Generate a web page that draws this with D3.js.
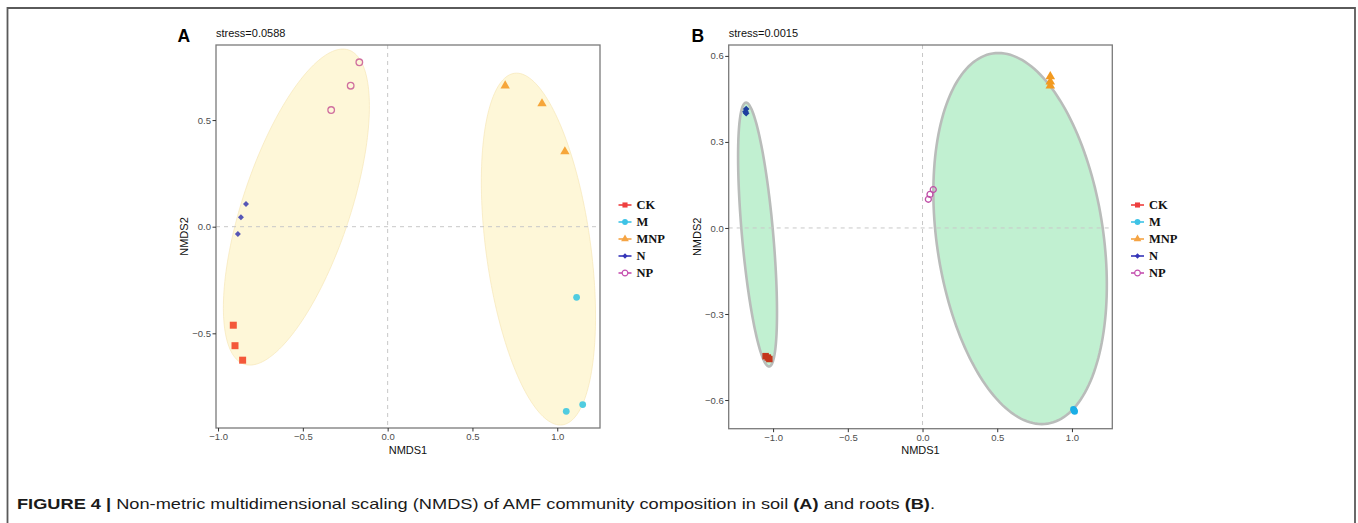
<!DOCTYPE html>
<html><head><meta charset="utf-8">
<script src="https://cdn.jsdelivr.net/npm/d3@7"></script>
<style>body{margin:0;background:#fff;} svg{display:block;}</style>
</head><body><svg id="chart" width="1358" height="523"></svg>
<script>
// ---------------- DATA ----------------
const groups = ["CK", "M", "MNP", "N", "NP"];

// Panel A (soil) NMDS scores [NMDS1, NMDS2]
const soilCK  = [[-0.910, -0.462], [-0.900, -0.558], [-0.855, -0.626]];
const soilM   = [[1.114, -0.331], [1.150, -0.834], [1.053, -0.866]];
const soilMNP = [[0.693, 0.661], [0.910, 0.577], [1.045, 0.352]];
const soilN   = [[-0.835, 0.106], [-0.865, 0.044], [-0.883, -0.034]];
const soilNP  = [[-0.167, 0.771], [-0.218, 0.661], [-0.333, 0.547]];
const soilStress = "stress=0.0588";

// Panel B (roots)
const rootCK  = [[-1.050, -0.447], [-1.035, -0.452], [-1.025, -0.457]];
const rootM   = [[1.010, -0.632], [1.015, -0.637], [1.018, -0.640]];
const rootMNP = [[0.855, 0.528], [0.855, 0.510], [0.855, 0.496]];
const rootN   = [[-1.180, 0.415], [-1.185, 0.405], [-1.180, 0.400]];
const rootNP  = [[0.039, 0.100], [0.050, 0.117], [0.072, 0.134]];
const rootStress = "stress=0.0015";

// group ellipses: centre + two conjugate semi-diameters (data units)
const soilEllipses = [
  {cx: -0.538, cy: 0.092, px: 0.274, py: 0.741, qx: 0.332, qy: 0},
  {cx: 0.889, cy: -0.105, px: -0.129, py: 0.825, qx: 0.311, qy: 0}
];
const rootEllipses = [
  {cx: -1.104, cy: -0.023, px: -0.077, py: 0.460, qx: 0.105, qy: 0},
  {cx: 0.653, cy: -0.037, px: -0.145, py: 0.647, qx: 0.562, qy: 0}
];

// axes
const soilXDomain = [-1.012, 1.252], soilYDomain = [-0.944, 0.852];
const rootXDomain = [-1.297, 1.270], rootYDomain = [-0.700, 0.638];
const soilXTicks = [-1, -0.5, 0, 0.5, 1];
const soilYTicks = [-0.5, 0, 0.5];
const rootXTicks = [-1, -0.5, 0, 0.5, 1];
const rootYTicks = [-0.6, -0.3, 0, 0.3, 0.6];
const xTitle = "NMDS1", yTitle = "NMDS2";

const captionBold = "FIGURE 4 |";
const captionText = " Non-metric multidimensional scaling (NMDS) of AMF community composition in soil ";

// ---------------- STYLE ----------------
const soilColors = {CK: "#F4583A", M: "#50CCE0", MNP: "#F6A63A", N: "#5656B6", NP: "#D0709F"};
const rootColors = {CK: "#C4361C", M: "#1AAEE6", MNP: "#F29A20", N: "#1F3F9F", NP: "#C050A8"};
const legendColors = {CK: "#EE3F3F", M: "#3EC3E6", MNP: "#F5A444", N: "#3535B8", NP: "#C44FAF"};

const svg = d3.select("#chart");
const FONT = "'Liberation Sans', Arial, sans-serif";

// outer frame
svg.append("path").attr("d", "M7.5,540 V8 H1355 V540")
  .attr("fill", "none").attr("stroke", "#5a5a5a").attr("stroke-width", 1.8);

function symbolPath(g, size) {
  const type = (g === "CK" || g === "N") ? d3.symbolSquare :
               (g === "MNP") ? d3.symbolTriangle : d3.symbolCircle;
  return d3.symbol().type(type).size(size)();
}

function drawPanel(o) {
  const x = d3.scaleLinear().domain(o.xDomain).range([o.left, o.right]);
  const y = d3.scaleLinear().domain(o.yDomain).range([o.bottom, o.top]);
  const g = svg.append("g");

  // ellipses
  const line = d3.line().x(d => x(d[0])).y(d => y(d[1])).curve(d3.curveLinearClosed);
  const ts = d3.range(0, 2 * Math.PI, Math.PI / 90);
  o.ellipses.forEach(e => {
    const pts = ts.map(t => [e.cx + e.px * Math.cos(t) + e.qx * Math.sin(t),
                             e.cy + e.py * Math.cos(t) + e.qy * Math.sin(t)]);
    g.append("path").attr("d", line(pts))
      .attr("fill", o.ellFill).attr("stroke", o.ellStroke)
      .attr("stroke-width", o.ellStrokeW).attr("stroke-opacity", o.ellStrokeOp);
  });

  // zero reference lines
  g.append("line").attr("x1", x(0)).attr("x2", x(0)).attr("y1", o.top).attr("y2", o.bottom)
    .attr("stroke", "#C8C8C8").attr("stroke-dasharray", "4,4").attr("stroke-width", 1);
  g.append("line").attr("x1", o.left).attr("x2", o.right).attr("y1", y(0)).attr("y2", y(0))
    .attr("stroke", "#C8C8C8").attr("stroke-dasharray", "4,4").attr("stroke-width", 1);

  // points
  groups.forEach(grp => {
    const pts = o.data[grp];
    const col = o.colors[grp];
    pts.forEach(p => {
      const s = g.append("path")
        .attr("d", symbolPath(grp, o.sizes[grp]))
        .attr("transform", `translate(${x(p[0])},${y(p[1])})` + (grp === "N" ? " rotate(45)" : ""));
      if (grp === "NP") s.attr("fill", "none").attr("stroke", col).attr("stroke-width", 1.3);
      else s.attr("fill", col);
    });
  });

  // panel border
  g.append("rect").attr("x", o.left).attr("y", o.top)
    .attr("width", o.right - o.left).attr("height", o.bottom - o.top)
    .attr("fill", "none").attr("stroke", "#7a7a7a").attr("stroke-width", 1.3);

  // axes
  const fmt = d3.format(".1f");
  const ax = g.append("g").attr("transform", `translate(0,${o.bottom})`)
    .call(d3.axisBottom(x).tickValues(o.xTicks).tickFormat(fmt).tickSize(3.5).tickPadding(2));
  const ay = g.append("g").attr("transform", `translate(${o.left},0)`)
    .call(d3.axisLeft(y).tickValues(o.yTicks).tickFormat(fmt).tickSize(3.5).tickPadding(1.5));
  [ax, ay].forEach(a => {
    a.select(".domain").remove();
    a.selectAll(".tick line").attr("stroke", "#333").attr("stroke-width", 1);
    a.selectAll(".tick text").attr("fill", "#4D4D4D").style("font-family", FONT).style("font-size", "9.5px");
  });

  // axis titles
  g.append("text").attr("x", (o.left + o.right) / 2).attr("y", 454)
    .attr("text-anchor", "middle").style("font-family", FONT).style("font-size", "11px")
    .attr("fill", "#111").text(xTitle);
  g.append("text").attr("transform", `translate(${o.left - 28},${(o.top + o.bottom) / 2}) rotate(-90)`)
    .attr("text-anchor", "middle").style("font-family", FONT).style("font-size", "11px")
    .attr("fill", "#111").text(yTitle);

  // stress + panel letter
  g.append("text").attr("x", o.left).attr("y", 37).style("font-family", FONT)
    .style("font-size", "11px").attr("fill", "#111").text(o.stress);
  g.append("text").attr("x", o.labelX).attr("y", 41.5).style("font-family", FONT)
    .style("font-size", "17.5px").style("font-weight", "bold").attr("fill", "#000").text(o.label);

  // legend
  const lg = g.append("g");
  groups.forEach((grp, i) => {
    const cy = 205 + i * 17;
    const col = legendColors[grp];
    lg.append("line").attr("x1", o.legendX).attr("x2", o.legendX + 13)
      .attr("y1", cy).attr("y2", cy).attr("stroke", col).attr("stroke-width", 1.6);
    const s = lg.append("path").attr("d", symbolPath(grp, grp === "N" ? 14 : 26))
      .attr("transform", `translate(${o.legendX + 6.5},${cy})` + (grp === "N" ? " rotate(45)" : ""));
    if (grp === "NP") s.attr("fill", "#fff").attr("stroke", col).attr("stroke-width", 1.2);
    else s.attr("fill", col);
    lg.append("text").attr("x", o.legendX + 18).attr("y", cy + 4.3)
      .style("font-family", "'Liberation Serif', 'Times New Roman', serif")
      .style("font-size", "12.5px").style("font-weight", "bold").attr("fill", "#111").text(grp);
  });
}

drawPanel({
  left: 216, right: 600, top: 45, bottom: 428,
  xDomain: soilXDomain, yDomain: soilYDomain, xTicks: soilXTicks, yTicks: soilYTicks,
  data: {CK: soilCK, M: soilM, MNP: soilMNP, N: soilN, NP: soilNP},
  ellipses: soilEllipses, ellFill: "#FEF7D8", ellStroke: "#F6E7B8", ellStrokeW: 1, ellStrokeOp: 0.7,
  colors: soilColors, sizes: {CK: 49, M: 36, MNP: 38, N: 18, NP: 34},
  stress: soilStress, label: "A", labelX: 177.5, legendX: 618.5
});

drawPanel({
  left: 728.7, right: 1112.3, top: 45, bottom: 428.7,
  xDomain: rootXDomain, yDomain: rootYDomain, xTicks: rootXTicks, yTicks: rootYTicks,
  data: {CK: rootCK, M: rootM, MNP: rootMNP, N: rootN, NP: rootNP},
  ellipses: rootEllipses, ellFill: "#C1F0D1", ellStroke: "#B9BCBA", ellStrokeW: 2.6, ellStrokeOp: 1,
  colors: rootColors, sizes: {CK: 42, M: 34, MNP: 40, N: 22, NP: 28},
  stress: rootStress, label: "B", labelX: 691.5, legendX: 1131
});

// caption
const cap = svg.append("text").attr("x", 17).attr("y", 509)
  .style("font-family", FONT).style("font-size", "15px").attr("fill", "#1a1a1a")
  .attr("textLength", 918).attr("lengthAdjust", "spacingAndGlyphs");
cap.append("tspan").style("font-weight", "bold").text(captionBold);
cap.append("tspan").text(captionText);
cap.append("tspan").style("font-weight", "bold").text("(A)");
cap.append("tspan").text(" and roots ");
cap.append("tspan").style("font-weight", "bold").text("(B)");
cap.append("tspan").text(".");
</script>
</body></html>
